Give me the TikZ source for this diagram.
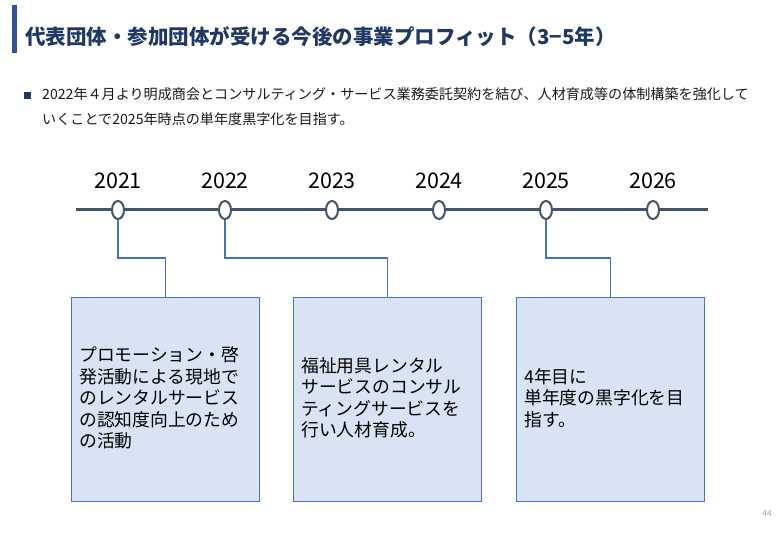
\documentclass[tikz,border=0pt]{standalone}
\usepackage{fontspec}
\setmainfont{Noto Sans CJK JP}
\usetikzlibrary{shapes.geometric}
\definecolor{navy}{HTML}{1F3864}
\definecolor{barblue}{HTML}{2F5597}
\definecolor{slate}{HTML}{44546A}
\definecolor{conblue}{HTML}{4472C4}
\definecolor{boxfill}{HTML}{DAE3F3}
\definecolor{bodytext}{HTML}{1A1A1A}
\tikzset{
  yearmark/.style={ellipse, draw=slate, line width=2pt, fill=white, minimum width=12pt, minimum height=18pt, inner sep=0pt},
  yearlabel/.style={font=\fontsize{21.5}{24}\selectfont, text=black, inner sep=0pt},
  infobox/.style={draw=conblue, line width=1.3pt, fill=boxfill, minimum width=188pt, minimum height=204pt, anchor=north west, inner sep=0pt},
  boxtext/.style={anchor=west, align=left, inner sep=0pt, font=\fontsize{17.8}{21.5}\selectfont, text=black},
  connector/.style={draw=conblue, line width=1.3pt}
}
\begin{document}
\begin{tikzpicture}[x=1pt, y=-1pt]
\useasboundingbox (0,0) rectangle (780,540);
\fill[white] (0,0) rectangle (780,540);
% title
\fill[barblue] (12,5) rectangle (17,53);
\node[anchor=west, inner sep=0pt, text=navy, font=\fontsize{20.5}{24}\selectfont\bfseries] (title) at (25,37) {代表団体・参加団体が受ける今後の事業プロフィット（3−5年）};
% bullet text
\fill[navy] (24,92) rectangle (31,99);
\node[anchor=north west, inner sep=0pt, align=left, text=bodytext, font=\fontsize{14.1}{25}\selectfont] (intro) at (42,87) {2022年４月より明成商会とコンサルティング・サービス業務委託契約を結び、人材育成等の体制構築を強化して\\いくことで2025年時点の単年度黒字化を目指す。};
% timeline
\coordinate (tl0) at (76,210);
\coordinate (tl1) at (708,210);
\draw[slate, line width=3pt] (tl0) -- (tl1);
\foreach \yr/\x [count=\i] in {2021/118,2022/225,2023/332,2024/439,2025/546,2026/653}{
  \node[yearmark] (e\i) at (\x,210) {};
  \node[yearlabel] (y\i) at (\x,181) {\yr};
}
% boxes
\node[infobox] (b1) at (71,297) {};
\node[infobox] (b2) at (293,297) {};
\node[infobox] (b3) at (516,297) {};
\node[boxtext] (t1) at (79,398) {プロモーション・啓\\発活動による現地で\\のレンタルサービス\\の認知度向上のため\\の活動};
\node[boxtext] (t2) at (301,398) {福祉用具レンタル\\サービスのコンサル\\ティングサービスを\\行い人材育成。};
\node[boxtext] (t3) at (524,398) {4年目に\\単年度の黒字化を目\\指す。};
% connectors
\draw[connector] (e1.south) -- (e1.south |- 0,258) -| (b1.north);
\draw[connector] (e2.south) -- (e2.south |- 0,258) -| (b2.north);
\draw[connector] (e5.south) -- (e5.south |- 0,258) -| (b3.north);
% page number
\node[inner sep=0pt, text=black!35, font=\fontsize{8.5}{9}\selectfont] (pg) at (767,513) {44};
\end{tikzpicture}
\end{document}
